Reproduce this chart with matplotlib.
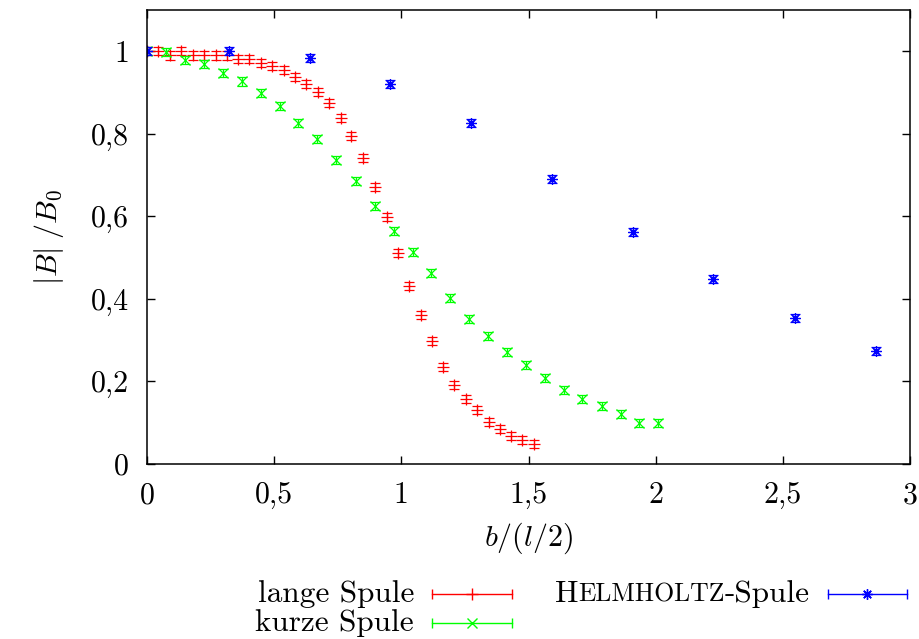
import matplotlib
matplotlib.use('Agg')
import matplotlib.pyplot as plt
from matplotlib.lines import Line2D
from matplotlib.ticker import FuncFormatter, MultipleLocator

# lange Spule
x_lang = [0, 0.043, 0.091, 0.134, 0.181, 0.225, 0.272, 0.315, 0.359, 0.402,
          0.449, 0.493, 0.540, 0.583, 0.627, 0.674, 0.717, 0.761, 0.804, 0.851,
          0.895, 0.942, 0.985, 1.029, 1.076, 1.119, 1.163, 1.206, 1.253, 1.297,
          1.344, 1.387, 1.431, 1.474, 1.521]
y_lang = [1.0, 1.0, 0.99, 1.0, 0.99, 0.99, 0.99, 0.99, 0.981, 0.981,
          0.971, 0.964, 0.954, 0.937, 0.920, 0.901, 0.874, 0.838, 0.794, 0.741,
          0.671, 0.598, 0.511, 0.431, 0.361, 0.298, 0.235, 0.191, 0.157, 0.131,
          0.102, 0.085, 0.068, 0.058, 0.048]
# kurze Spule
x_kurz = [0, 0.075, 0.150, 0.225, 0.300, 0.374, 0.449, 0.524, 0.595, 0.670,
          0.745, 0.820, 0.895, 0.970, 1.045, 1.115, 1.190, 1.265, 1.340, 1.415,
          1.490, 1.565, 1.640, 1.711, 1.789, 1.864, 1.935, 2.010]
y_kurz = [1.0, 0.998, 0.978, 0.969, 0.947, 0.927, 0.898, 0.867, 0.826, 0.787,
          0.736, 0.686, 0.625, 0.564, 0.513, 0.462, 0.402, 0.351, 0.310, 0.271,
          0.240, 0.208, 0.179, 0.157, 0.140, 0.121, 0.099, 0.099]
# Helmholtz-Spule
x_helm = [0, 0.323, 0.639, 0.954, 1.273, 1.592, 1.912, 2.227, 2.546, 2.866]
y_helm = [1.0, 1.0, 0.983, 0.920, 0.826, 0.690, 0.562, 0.448, 0.354, 0.274]
y_err = 0.01

plt.rcParams['font.family'] = 'cmr10'
plt.rcParams['mathtext.fontset'] = 'cm'
plt.rcParams['axes.formatter.use_mathtext'] = True
plt.rcParams['font.size'] = 21.5

W, H = 920, 639
fig = plt.figure(figsize=(W / 100, H / 100), dpi=100)
ax = fig.add_axes([147 / W, 1 - 464 / H, (910 - 147) / W, (464 - 10) / H])

series = [
    (x_lang, y_lang, '#ff0000', '+', 8),
    (x_kurz, y_kurz, '#00ff00', 'x', 6.5),
    (x_helm, y_helm, '#0000ff', (8, 2, 0), 7.5),
]
for xs, ys, c, m, ms in series:
    ax.errorbar(xs, ys, yerr=y_err, fmt='none', ecolor=c, elinewidth=0.9,
                capsize=3.5, capthick=0.9)
    ax.plot(xs, ys, ls='none', marker=m, ms=ms, mew=0.9, color=c)

ax.set_xlim(0, 3)
ax.set_ylim(0, 1.1)
ax.xaxis.set_major_locator(MultipleLocator(0.5))
ax.yaxis.set_major_locator(MultipleLocator(0.2))
fmt = FuncFormatter(lambda v, p: ('%g' % round(v, 3)).replace('.', ','))
ax.xaxis.set_major_formatter(fmt)
ax.yaxis.set_major_formatter(fmt)
ax.tick_params(direction='in', length=6, width=1.0, top=True, right=True, pad=13)
for s in ax.spines.values():
    s.set_linewidth(1.1)

ax.set_xlabel(r'$b/(l/2)$', labelpad=8)
ax.set_ylabel(r'$|B|\;/B_0$', labelpad=18)


def f(x, y):
    return (x / W, 1 - y / H)


def key(x0, x1, y, c, m, ms):
    fig.add_artist(Line2D([x0 / W, x1 / W], [1 - y / H] * 2, color=c, lw=1.0,
                          transform=fig.transFigure))
    fig.add_artist(Line2D([x0 / W, x1 / W], [1 - y / H] * 2, ls='none', marker='|',
                          ms=7, mew=1.0, color=c, transform=fig.transFigure))
    xm = (x0 + x1) / 2
    fig.add_artist(Line2D([xm / W], [1 - y / H], ls='none', marker=m, ms=ms,
                          mew=1.0, color=c, transform=fig.transFigure))


key(432, 512, 594, '#ff0000', '+', 8)
key(432, 512, 623, '#00ff00', 'x', 6.5)
key(828, 907, 594, '#0000ff', (8, 2, 0), 7.5)

leg_size = 22.5
fig.text(*f(414, 602), 'lange Spule', ha='right', va='baseline', fontsize=leg_size)
fig.text(*f(414, 631), 'kurze Spule', ha='right', va='baseline', fontsize=leg_size)

# small caps "Helmholtz"
r = fig.canvas.get_renderer()
t3 = fig.text(*f(810, 602), '-Spule', ha='right', va='baseline', fontsize=leg_size)
w3 = t3.get_window_extent(r).width
t2 = fig.text(*f(810 - w3, 602), 'ELMHOLTZ', ha='right', va='baseline', fontsize=18.5)
w2 = t2.get_window_extent(r).width
fig.text(*f(810 - w3 - w2, 602), 'H', ha='right', va='baseline', fontsize=leg_size)

fig.savefig('out.png', dpi=100)
